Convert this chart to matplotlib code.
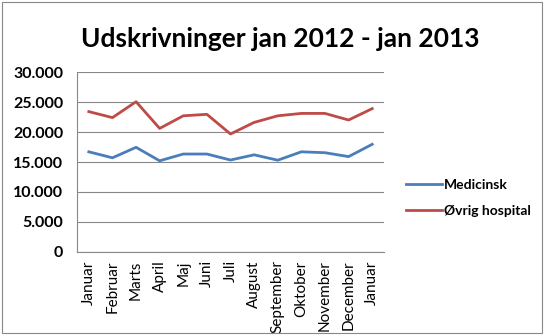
import matplotlib.pyplot as plt
from matplotlib.patches import Rectangle
from matplotlib.ticker import FuncFormatter

months = ['Januar', 'Februar', 'Marts', 'April', 'Maj', 'Juni', 'Juli',
          'August', 'September', 'Oktober', 'November', 'December', 'Januar']
medicinsk = [16700, 15700, 17450, 15200, 16330, 16330, 15330,
             16200, 15300, 16700, 16550, 15900, 17950]
ovrig = [23400, 22400, 25050, 20600, 22700, 22950, 19670,
         21600, 22700, 23100, 23100, 22000, 23900]

plt.rcParams['font.family'] = ['Lato', 'DejaVu Sans']

fig = plt.figure(figsize=(5.45, 3.35), dpi=100)
ax = fig.add_axes([0.1413, 0.2478, 0.5633, 0.5372])

x = range(len(months))
ax.plot(x, medicinsk, color='#4A7EBB', lw=2.0, label='Medicinsk')
ax.plot(x, ovrig, color='#BE4B48', lw=2.0, label='Øvrig hospital')

ax.set_xlim(-0.5, len(months) - 0.5)
ax.set_ylim(0, 30000)
ax.set_yticks(range(0, 30001, 5000))
ax.yaxis.set_major_formatter(FuncFormatter(lambda v, p: f'{int(v):,}'.replace(',', '.')))
ax.set_xticks(list(x))
ax.set_xticklabels(months, rotation=90, fontsize=11)
for lbl in ax.get_yticklabels():
    lbl.set_fontweight('bold')
    lbl.set_fontsize(11.5)
ax.tick_params(length=0)
ax.tick_params(axis='y', pad=10)
ax.tick_params(axis='x', pad=6)
ax.grid(axis='y', color='#888888', lw=0.8)
ax.set_axisbelow(True)
for s in ['top', 'right']:
    ax.spines[s].set_visible(False)
for s in ['left', 'bottom']:
    ax.spines[s].set_color('#888888')
    ax.spines[s].set_linewidth(0.8)

fig.text(0.514, 0.885, 'Udskrivninger jan 2012 - jan 2013', ha='center',
         va='center', fontsize=19, fontweight='bold')

fig.legend(loc='center left', bbox_to_anchor=(0.745, 0.41), frameon=False,
           prop={'size': 10, 'weight': 'bold'}, handlelength=2.6,
           handletextpad=0.15, labelspacing=1.0, borderpad=0, borderaxespad=0)

fig.patches.append(Rectangle((0.004, 0.006), 0.99, 0.988, transform=fig.transFigure,
                             fill=False, edgecolor='#888888', lw=0.8))

fig.savefig('out.png', dpi=100)
